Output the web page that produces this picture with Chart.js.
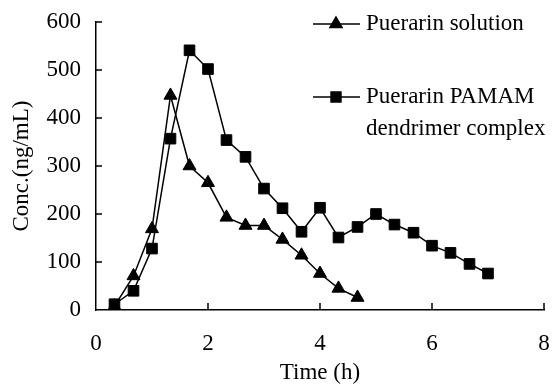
<!DOCTYPE html>
<html>
<head>
<meta charset="utf-8">
<script src="https://cdn.jsdelivr.net/npm/chart.js@4/dist/chart.umd.min.js"></script>
<style>
  html, body { margin: 0; padding: 0; background: #fff; }
  #chart { display: block; }
</style>
</head>
<body>
<canvas id="chart" width="553" height="389"></canvas>
<script>
const timeSolution = [0.33, 0.67, 1, 1.33, 1.67, 2, 2.33, 2.67, 3, 3.33, 3.67, 4, 4.33, 4.67];
const concSolution = [8, 71, 169, 447, 300, 265, 193, 176, 176, 147, 114, 76, 45, 26];

const timeComplex = [0.33, 0.67, 1, 1.33, 1.67, 2, 2.33, 2.67, 3, 3.33, 3.67, 4, 4.33, 4.67, 5, 5.33, 5.67, 6, 6.33, 6.67, 7];
const concComplex = [12, 40, 128, 357, 541, 502, 354, 319, 253, 212, 163, 213, 151, 173, 200, 178, 161, 134, 119, 96, 76];

const xTicks = [0, 2, 4, 6, 8];
const yTicks = [0, 100, 200, 300, 400, 500, 600];

const legendLabels = [["Puerarin solution"], ["Puerarin PAMAM", "dendrimer complex"]];

const FONT = "'Liberation Serif', 'Times New Roman', serif";
const FS = 23;

function toPoints(xs, ys) {
  return xs.map((x, i) => ({ x: x, y: ys[i] }));
}

// ticks point into the plot area
const innerTicks = {
  id: "innerTicks",
  afterDraw(chart) {
    const { ctx, scales: { x, y } } = chart;
    ctx.save();
    ctx.strokeStyle = "#000";
    ctx.lineWidth = 1.5;
    ctx.beginPath();
    xTicks.forEach(v => {
      if (v === 0) return;
      const px = x.getPixelForValue(v);
      ctx.moveTo(px, y.bottom);
      ctx.lineTo(px, y.bottom - 7);
    });
    yTicks.forEach(v => {
      if (v === 0) return;
      const py = y.getPixelForValue(v);
      ctx.moveTo(x.left, py);
      ctx.lineTo(x.left + 6, py);
    });
    ctx.stroke();
    ctx.restore();
  }
};

// legend drawn inside the plot, top right
const sideLegend = {
  id: "sideLegend",
  afterDraw(chart) {
    const ctx = chart.ctx;
    const rows = [24, 97];
    const styles = ["triangle", "rect"];
    ctx.save();
    ctx.strokeStyle = "#000";
    ctx.fillStyle = "#000";
    ctx.lineWidth = 1.5;
    rows.forEach((ly, i) => {
      ctx.beginPath();
      ctx.moveTo(313, ly);
      ctx.lineTo(360, ly);
      ctx.stroke();
      Chart.helpers.drawPoint(ctx, { pointStyle: styles[i], radius: 7, rotation: 0, borderWidth: 1 }, 336, ly);
      ctx.fill();
      ctx.font = FS + "px " + FONT;
      ctx.textBaseline = "middle";
      ctx.textAlign = "left";
      legendLabels[i].forEach((t, j) => {
        ctx.fillText(t, 366, ly + j * 32);
      });
    });
    ctx.restore();
  }
};

new Chart(document.getElementById("chart"), {
  type: "line",
  data: {
    datasets: [
      {
        label: "Puerarin solution",
        data: toPoints(timeSolution, concSolution),
        borderColor: "#000",
        backgroundColor: "#000",
        borderWidth: 1.5,
        pointStyle: "triangle",
        pointRadius: 7.5,
        pointBorderWidth: 1,
        tension: 0
      },
      {
        label: "Puerarin PAMAM dendrimer complex",
        data: toPoints(timeComplex, concComplex),
        borderColor: "#000",
        backgroundColor: "#000",
        borderWidth: 1.5,
        pointStyle: "rect",
        pointRadius: 7.5,
        pointBorderWidth: 1,
        tension: 0
      }
    ]
  },
  options: {
    responsive: false,
    animation: false,
    layout: { autoPadding: false, padding: { top: 22, right: 9, left: 0, bottom: 0 } },
    plugins: {
      legend: { display: false },
      tooltip: { enabled: false }
    },
    scales: {
      x: {
        type: "linear",
        min: 0,
        max: 8,
        afterFit(axis) {
          axis.height = 79;
          axis.paddingLeft = 0;
          axis.paddingRight = 0;
        },
        afterBuildTicks(axis) { axis.ticks = xTicks.map(v => ({ value: v })); },
        grid: { drawOnChartArea: false, drawTicks: false },
        border: { display: true, color: "#000", width: 1.5 },
        ticks: {
          color: "#000",
          padding: 20,
          font: { family: FONT, size: FS }
        },
        title: {
          display: true,
          text: "Time (h)",
          color: "#000",
          font: { family: FONT, size: FS },
          padding: { top: 0, bottom: 2 }
        }
      },
      y: {
        type: "linear",
        min: 0,
        max: 600,
        afterFit(axis) {
          axis.width = 96;
          axis.paddingTop = 0;
          axis.paddingBottom = 0;
        },
        afterBuildTicks(axis) { axis.ticks = yTicks.map(v => ({ value: v })); },
        grid: { drawOnChartArea: false, drawTicks: false },
        border: { display: true, color: "#000", width: 1.5 },
        ticks: {
          color: "#000",
          padding: 15,
          font: { family: FONT, size: FS }
        },
        title: {
          display: true,
          text: "Conc.(ng/mL)",
          color: "#000",
          font: { family: FONT, size: FS },
          padding: { top: 8, bottom: 0 }
        }
      }
    }
  },
  plugins: [innerTicks, sideLegend]
});
</script>
</body>
</html>
